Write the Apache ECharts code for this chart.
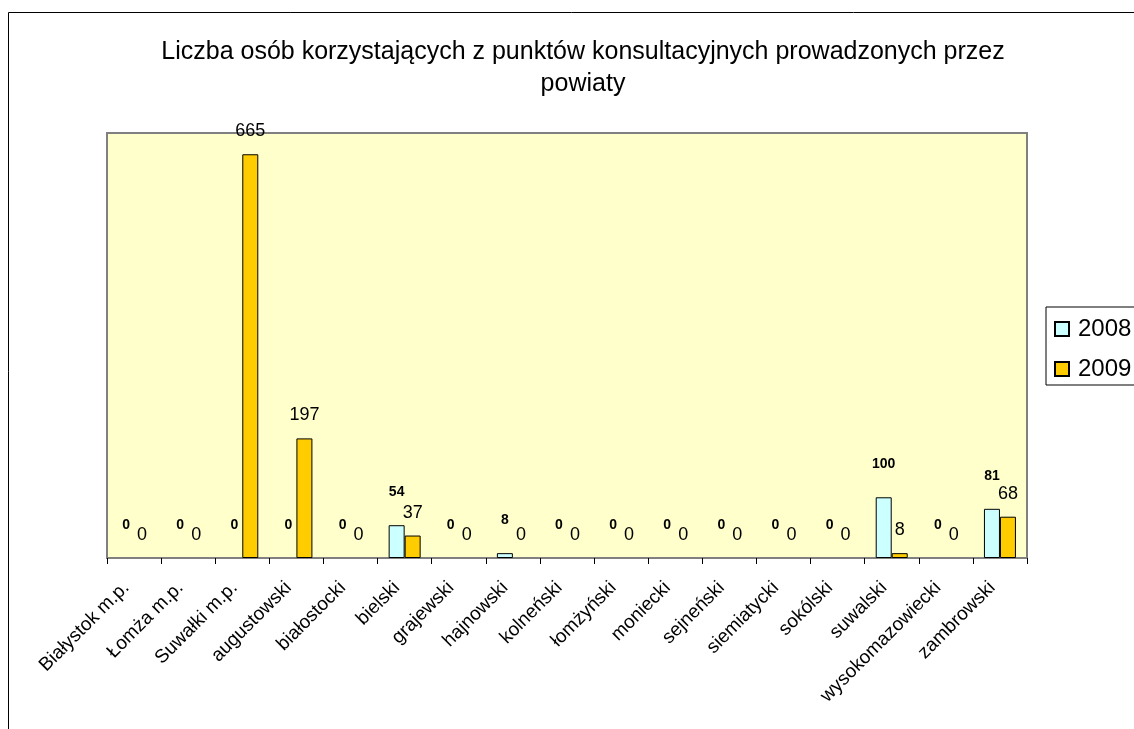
<!DOCTYPE html>
<html>
<head>
<meta charset="utf-8">
<script src="https://cdn.jsdelivr.net/npm/echarts@6/dist/echarts.min.js"></script>
<style>
  html, body { margin: 0; padding: 0; background: #fff; }
  #chart { width: 1134px; height: 729px; }
</style>
</head>
<body>
<div id="chart"></div>
<script>
// dane z wykresu
var powiaty = ["Białystok m.p.", "Łomża m.p.", "Suwałki m.p.", "augustowski", "białostocki", "bielski",
  "grajewski", "hajnowski", "kolneński", "łomżyński", "moniecki", "sejneński", "siemiatycki",
  "sokólski", "suwalski", "wysokomazowiecki", "zambrowski"];
var lata = ["2008", "2009"];
var dane2008 = [0, 0, 0, 0, 0, 54, 0, 8, 0, 0, 0, 0, 0, 0, 100, 0, 81];
var dane2009 = [0, 0, 665, 197, 0, 37, 0, 0, 0, 0, 0, 0, 0, 0, 8, 0, 68];

var font = "Liberation Sans, Arial, sans-serif";

// słupki o wartości 0 bez obramowania (jak w Excelu)
function bezZer(arr) {
  return arr.map(function (v) {
    return v === 0 ? { value: v, itemStyle: { borderWidth: 0 } } : v;
  });
}

var chart = echarts.init(document.getElementById("chart"));

chart.setOption({
  animation: false,
  textStyle: { fontFamily: font },
  title: {
    text: "Liczba osób korzystających z punktów konsultacyjnych prowadzonych przez\npowiaty",
    left: 578,
    top: 31,
    textAlign: "center",
    textStyle: { fontSize: 25, fontWeight: "normal", color: "#000", lineHeight: 32, fontFamily: font }
  },
  graphic: [{
    type: "rect",
    shape: { x: 8.5, y: 12.5, width: 1300, height: 900 },
    style: { fill: "none", stroke: "#000", lineWidth: 1 },
    z: -10
  }],
  legend: {
    data: lata,
    orient: "vertical",
    left: 1046,
    top: 307,
    padding: [10, 40, 4, 8],
    itemGap: 16,
    itemWidth: 14,
    itemHeight: 14,
    icon: "rect",
    borderColor: "#000",
    borderWidth: 1,
    textStyle: { fontSize: 24, color: "#000", fontFamily: font, padding: [0, 0, 0, 4] }
  },
  grid: {
    left: 107, top: 133, right: 107, bottom: 171,
    show: true,
    backgroundColor: "#FFFFCC",
    borderColor: "#808080",
    borderWidth: 2
  },
  xAxis: {
    type: "category",
    data: powiaty,
    axisLine: { lineStyle: { color: "#808080", width: 2 } },
    axisTick: { show: true, length: 6, lineStyle: { color: "#000", width: 1 } },
    axisLabel: { rotate: 45, fontSize: 19, color: "#000", margin: 19, interval: 0, padding: [0, 11, 0, 0], fontFamily: font }
  },
  yAxis: {
    type: "value",
    min: 0,
    max: 700,
    show: false,
    splitLine: { show: false }
  },
  series: [{
    name: lata[0],
    type: "bar",
    data: bezZer(dane2008),
    barWidth: 16,
    barGap: "0%",
    itemStyle: { color: "#CCFFFF", borderColor: "#000", borderWidth: 1 },
    label: { show: true, position: "top", distance: 26, fontSize: 14, fontWeight: "bold", color: "#000", fontFamily: font }
  }, {
    name: lata[1],
    type: "bar",
    data: bezZer(dane2009),
    barWidth: 16,
    barGap: "0%",
    itemStyle: { color: "#FFCC00", borderColor: "#000", borderWidth: 1 },
    label: { show: true, position: "top", distance: 14, fontSize: 18, color: "#000", fontFamily: font }
  }]
});

window.onresize = function () {
  chart.resize();
};
</script>
</body>
</html>
